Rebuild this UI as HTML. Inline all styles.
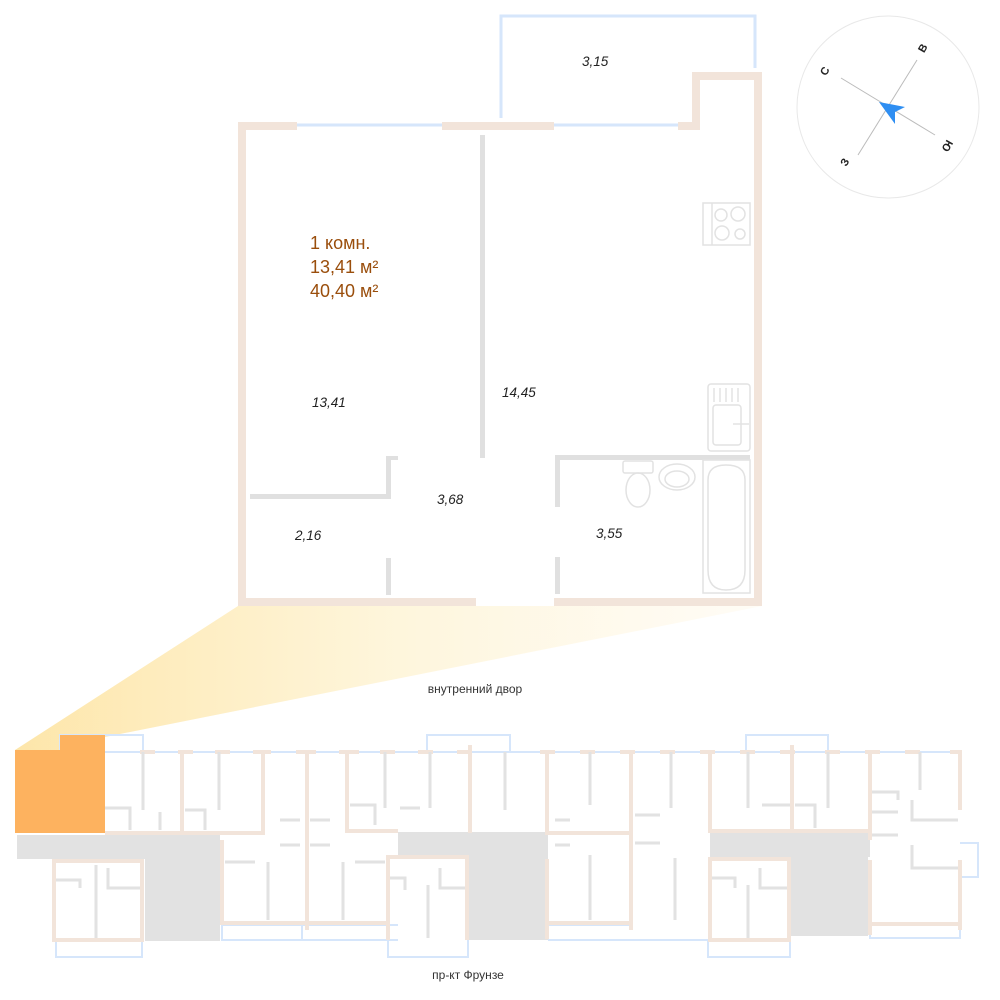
<!DOCTYPE html>
<html><head><meta charset="utf-8"><style>
html,body{margin:0;padding:0;background:#fff;}
svg{display:block}
text{font-family:"Liberation Sans",sans-serif;}
</style></head><body>
<svg width="1000" height="1000" viewBox="0 0 1000 1000" xmlns="http://www.w3.org/2000/svg">
<defs>
<linearGradient id="g" x1="0" y1="0" x2="1" y2="0">
<stop offset="0" stop-color="#fde3a0" stop-opacity="0.9"/>
<stop offset="0.5" stop-color="#fef3d2" stop-opacity="0.8"/>
<stop offset="1" stop-color="#fffaf0" stop-opacity="0.6"/>
</linearGradient>
</defs>
<!-- fan -->
<polygon points="238,606 762,606 105,737 62,737 62,750 15,750" fill="url(#g)"/>

<!-- balcony -->
<polyline points="501,118 501,16 755,16 755,68" fill="none" stroke="#d6e6fb" stroke-width="3"/>
<!-- windows -->
<line x1="297" y1="125" x2="442" y2="125" stroke="#d6e6fb" stroke-width="3"/>
<line x1="554" y1="125" x2="678" y2="125" stroke="#d6e6fb" stroke-width="3"/>
<!-- beige walls -->
<g fill="#f2e4da">
<rect x="238" y="122" width="59" height="8"/>
<rect x="238" y="122" width="8" height="484"/>
<rect x="442" y="122" width="112" height="8"/>
<rect x="678" y="122" width="22" height="8"/>
<rect x="692" y="72" width="8" height="58"/>
<rect x="692" y="72" width="70" height="8"/>
<rect x="754" y="72" width="8" height="534"/>
<rect x="238" y="598" width="238" height="8"/>
<rect x="554" y="598" width="208" height="8"/>
</g>
<!-- gray interior walls -->
<g fill="#e0e0e0">
<rect x="480" y="135" width="5" height="323"/>
<rect x="250" y="494" width="140" height="5"/>
<rect x="386" y="456" width="5" height="43"/>
<rect x="386" y="456" width="12" height="4"/>
<rect x="386" y="558" width="5" height="37"/>
<rect x="555" y="455" width="195" height="5"/>
<rect x="555" y="455" width="5" height="52"/>
<rect x="555" y="557" width="5" height="37"/>
</g>
<!-- fixtures -->
<g fill="none" stroke="#e2e2e2" stroke-width="1.5">
<rect x="703" y="203" width="47" height="42"/>
<line x1="712" y1="203" x2="712" y2="245"/>
<circle cx="721" cy="215" r="6"/><circle cx="738" cy="214" r="7"/>
<circle cx="722" cy="233" r="7"/><circle cx="740" cy="234" r="5"/>
<rect x="708" y="384" width="42" height="67" rx="3"/>
<rect x="713" y="405" width="28" height="40" rx="3"/>
<line x1="714" y1="388" x2="714" y2="402"/><line x1="720" y1="388" x2="720" y2="402"/><line x1="726" y1="388" x2="726" y2="402"/><line x1="732" y1="388" x2="732" y2="402"/><line x1="738" y1="388" x2="738" y2="402"/>
<line x1="733" y1="424" x2="749" y2="424"/>
<rect x="703" y="460" width="47" height="133"/>
<path d="M708 600 M708 480 Q708 465 726 465 Q745 465 745 480 L745 570 Q745 590 726 590 Q708 590 708 570 Z"/>
<rect x="623" y="461" width="30" height="12" rx="2"/>
<ellipse cx="638" cy="490" rx="12" ry="17"/>
<ellipse cx="677" cy="477" rx="18" ry="13"/>
<ellipse cx="677" cy="479" rx="12" ry="8"/>
</g>
<!-- texts -->
<g fill="#9a4e0c" font-size="18">
<text x="310" y="249">1 комн.</text>
<text x="310" y="273">13,41 м²</text>
<text x="310" y="297">40,40 м²</text>
</g>
<g fill="#222" font-size="13.5" font-style="italic">
<text x="582" y="66">3,15</text>
<text x="312" y="407">13,41</text>
<text x="502" y="397">14,45</text>
<text x="437" y="504">3,68</text>
<text x="295" y="540">2,16</text>
<text x="596" y="538">3,55</text>
</g>
<text x="475" y="693" font-size="12" fill="#333" text-anchor="middle">внутренний двор</text>
<text x="468" y="979" font-size="12" fill="#333" text-anchor="middle">пр-кт Фрунзе</text>

<!-- compass -->
<circle cx="888" cy="107" r="91" fill="none" stroke="#e8e8e8" stroke-width="1"/>
<line x1="841" y1="78" x2="935" y2="135" stroke="#bbb" stroke-width="1"/>
<line x1="917" y1="60" x2="858" y2="155" stroke="#bbb" stroke-width="1"/>
<polygon points="879,102 905,107 895,112 895,124" fill="#2e8ef2"/>
<g font-size="11" font-weight="bold" fill="#222">
<text x="0" y="0" transform="translate(828,73) rotate(-60)" text-anchor="middle">С</text>
<text x="0" y="0" transform="translate(926,50) rotate(-60)" text-anchor="middle">В</text>
<text x="0" y="0" transform="translate(944,144) rotate(120)" text-anchor="middle">Ю</text>
<text x="0" y="0" transform="translate(848,164) rotate(-60)" text-anchor="middle">З</text>
</g>

<!-- bottom plan -->
<g fill="#e2e2e2">
<rect x="17" y="835" width="203" height="24"/>
<rect x="145" y="835" width="75" height="106"/>
<rect x="398" y="832" width="132" height="25"/>
<rect x="468" y="832" width="80" height="108"/>
<rect x="710" y="832" width="160" height="25"/>
<rect x="790" y="832" width="78" height="104"/>
</g>
<g fill="none" stroke="#d6e6fb" stroke-width="2">
<line x1="105" y1="752" x2="960" y2="752"/>
<polyline points="60,750 60,735 143,735 143,752"/>
<polyline points="427,752 427,735 510,735 510,752"/>
<polyline points="746,752 746,735 828,735 828,752"/>
<polyline points="56,940 56,957 142,957 142,940"/>
<polyline points="222,925 222,940 398,940"/>
<line x1="222" y1="925" x2="398" y2="925"/>
<line x1="302" y1="925" x2="302" y2="940"/>
<polyline points="388,940 388,957 468,957 468,940"/>
<line x1="548" y1="925" x2="630" y2="925"/>
<line x1="548" y1="940" x2="710" y2="940"/>
<polyline points="708,940 708,957 790,957 790,940"/>
<polyline points="870,925 870,938 960,938 960,925"/>
<polyline points="960,843 978,843 978,877 960,877"/>
</g>
<rect x="15" y="750" width="47" height="83" fill="#fdb25f"/>
<rect x="60" y="735" width="45" height="98" fill="#fdb25f"/>
<g fill="#f2e4da">
<!-- top verticals -->
<rect x="180" y="750" width="4" height="83"/>
<rect x="261" y="750" width="4" height="83"/>
<rect x="305" y="750" width="4" height="180"/>
<rect x="345" y="750" width="4" height="83"/>
<rect x="468" y="745" width="4" height="88"/>
<rect x="545" y="750" width="4" height="83"/>
<rect x="629" y="750" width="4" height="180"/>
<rect x="708" y="750" width="4" height="83"/>
<rect x="790" y="745" width="4" height="88"/>
<rect x="868" y="750" width="4" height="90"/>
<rect x="958" y="750" width="4" height="60"/>
<!-- top horizontals -->
<rect x="105" y="831" width="115" height="4"/>
<rect x="220" y="831" width="45" height="4"/>
<rect x="345" y="829" width="53" height="4"/>
<rect x="545" y="831" width="85" height="4"/>
<rect x="708" y="829" width="160" height="4"/>
<!-- bottom blocks -->
<rect x="52" y="859" width="4" height="82"/>
<rect x="140" y="859" width="4" height="82"/>
<rect x="52" y="859" width="92" height="4"/>
<rect x="52" y="938" width="92" height="4"/>
<rect x="220" y="840" width="4" height="85"/>
<rect x="386" y="855" width="4" height="85"/>
<rect x="465" y="855" width="4" height="85"/>
<rect x="386" y="855" width="83" height="4"/>
<rect x="220" y="921" width="170" height="4"/>
<rect x="545" y="859" width="4" height="80"/>
<rect x="545" y="921" width="85" height="4"/>
<rect x="708" y="857" width="4" height="85"/>
<rect x="787" y="857" width="4" height="85"/>
<rect x="708" y="857" width="83" height="4"/>
<rect x="708" y="938" width="83" height="4"/>
<rect x="868" y="860" width="4" height="75"/>
<rect x="958" y="860" width="4" height="70"/>
<rect x="868" y="922" width="94" height="4"/>
<!-- ticks -->
<rect x="140" y="750" width="15" height="4"/><rect x="178" y="750" width="15" height="4"/><rect x="215" y="750" width="15" height="4"/><rect x="253" y="750" width="18" height="4"/><rect x="296" y="750" width="20" height="4"/><rect x="339" y="750" width="20" height="4"/><rect x="380" y="750" width="15" height="4"/><rect x="418" y="750" width="15" height="4"/><rect x="457" y="750" width="15" height="4"/><rect x="540" y="750" width="15" height="4"/><rect x="580" y="750" width="15" height="4"/><rect x="620" y="750" width="15" height="4"/><rect x="660" y="750" width="15" height="4"/><rect x="700" y="750" width="15" height="4"/><rect x="740" y="750" width="15" height="4"/><rect x="780" y="750" width="15" height="4"/><rect x="825" y="750" width="15" height="4"/><rect x="865" y="750" width="15" height="4"/><rect x="905" y="750" width="15" height="4"/><rect x="950" y="750" width="12" height="4"/>
</g>
<g fill="none" stroke="#e2e2e2" stroke-width="3">
<line x1="143" y1="752" x2="143" y2="810"/>
<line x1="219" y1="752" x2="219" y2="810"/>
<polyline points="105,808 130,808 130,830"/>
<polyline points="160,812 160,830"/>
<polyline points="185,810 205,810 205,830"/>
<line x1="385" y1="752" x2="385" y2="808"/>
<line x1="430" y1="752" x2="430" y2="808"/>
<polyline points="350,805 375,805 375,825"/>
<polyline points="400,808 420,808"/>
<polyline points="280,820 300,820"/><polyline points="280,845 300,845"/><polyline points="310,820 330,820"/><polyline points="310,845 330,845"/>
<line x1="268" y1="862" x2="268" y2="920"/>
<line x1="343" y1="862" x2="343" y2="920"/>
<polyline points="225,862 255,862"/><polyline points="355,862 385,862"/>
<line x1="96" y1="865" x2="96" y2="938"/>
<polyline points="56,880 80,880 80,888"/>
<polyline points="108,868 108,888 140,888"/>
<line x1="428" y1="885" x2="428" y2="938"/>
<polyline points="390,878 405,878 405,890"/>
<polyline points="440,868 440,888 465,888"/>
<line x1="505" y1="752" x2="505" y2="810"/>
<line x1="590" y1="752" x2="590" y2="805"/>
<line x1="671" y1="752" x2="671" y2="808"/>
<polyline points="555,820 570,820"/><polyline points="555,845 570,845"/>
<line x1="590" y1="855" x2="590" y2="920"/>
<line x1="675" y1="858" x2="675" y2="920"/>
<polyline points="635,815 660,815"/><polyline points="635,843 660,843"/>
<line x1="748" y1="752" x2="748" y2="808"/>
<line x1="828" y1="752" x2="828" y2="808"/>
<polyline points="762,805 790,805"/><polyline points="795,805 815,805 815,828"/>
<line x1="748" y1="885" x2="748" y2="938"/>
<polyline points="712,878 735,878 735,888"/>
<polyline points="760,868 760,888 787,888"/>
<polyline points="872,792 898,792 898,800"/>
<polyline points="872,812 898,812"/>
<polyline points="872,835 898,835"/>
<polyline points="912,800 912,820 958,820"/>
<polyline points="912,845 912,868 958,868"/>
<line x1="920" y1="752" x2="920" y2="790"/>
</g>
</svg>
</body></html>
